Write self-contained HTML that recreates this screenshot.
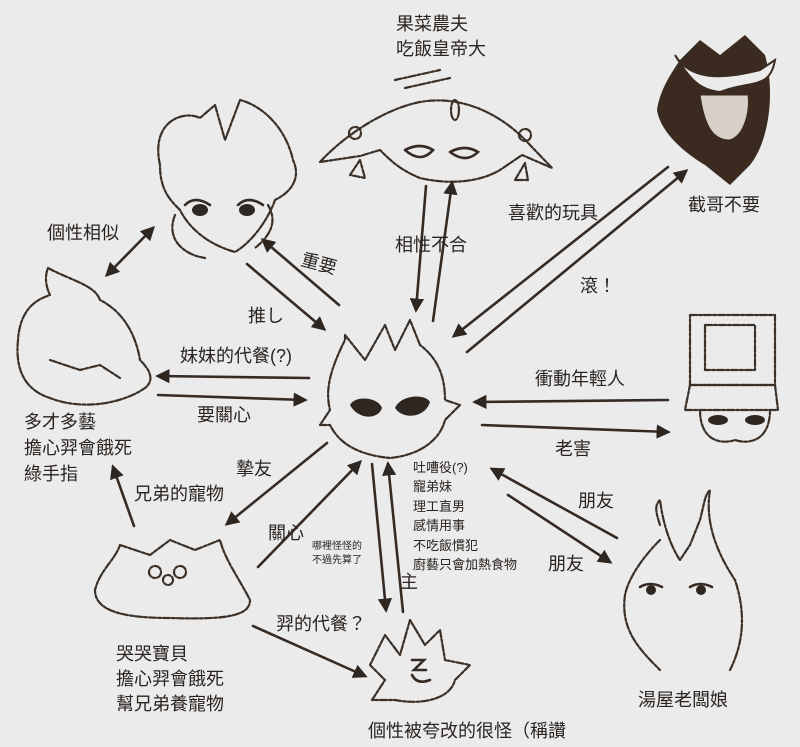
<!DOCTYPE html>
<html><head><meta charset="utf-8"><style>
html,body{margin:0;padding:0;background:#ebebeb;}
svg{display:block}
text{font-family:"Liberation Sans","Noto Sans CJK TC",sans-serif;fill:#2a2420;}
.l{stroke:#352b24;stroke-width:2.6;fill:none;stroke-linecap:round}
.c{stroke:#3a3028;stroke-width:2.2;fill:none;stroke-dasharray:7 2 3 2;stroke-linecap:round;stroke-linejoin:round}
</style></head><body>
<svg width="800" height="747" viewBox="0 0 800 747" xmlns="http://www.w3.org/2000/svg">
<defs><marker id="a" viewBox="0 0 10 10" refX="8" refY="5" markerWidth="5.5" markerHeight="5.5" orient="auto-start-reverse"><path d="M0,0 L10,5 L0,10 z" fill="#2e2620"/></marker></defs>
<rect width="800" height="747" fill="#ebebeb"/>

<!-- top center char -->
<path class="c" d="M320,162 C340,140 380,110 420,102 C460,95 500,112 530,145 L552,168 L522,155 L500,170 C480,182 450,185 420,178 C400,170 390,160 380,150 L360,156 Z"/>
<path class="c" d="M395,80 L440,70 M405,88 L450,78"/>
<ellipse class="c" cx="455" cy="110" rx="4" ry="10"/>
<circle class="c" cx="355" cy="133" r="6"/><circle class="c" cx="525" cy="135" r="6"/>
<path class="c" d="M350,175 L360,160 L365,178 Z M515,180 L525,163 L528,180 Z"/>
<path class="l" d="M405,150 q15,-8 28,0 q-12,14 -28,0 M450,152 q15,-8 28,0 q-12,12 -28,0"/>
<!-- top left char -->
<path class="c" d="M160,165 C150,120 185,110 200,118 L215,105 L225,140 L240,100 C260,105 285,125 293,160 C300,175 295,190 275,200 C270,215 255,240 235,252 C210,245 190,230 180,210 C170,200 160,190 160,165 Z"/>
<path class="c" d="M175,215 C165,240 185,255 205,258 M268,205 C280,225 265,240 255,248"/>
<path class="l" d="M185,205 q10,-10 25,0 M238,205 q10,-10 25,0"/>
<ellipse cx="200" cy="210" rx="8" ry="6" fill="#2e2620"/><ellipse cx="247" cy="210" rx="8" ry="6" fill="#2e2620"/>
<!-- left char -->
<path class="c" d="M48,268 C70,280 95,285 100,300 C120,310 135,330 140,360 C150,370 155,380 145,388 C120,405 80,410 50,398 C25,390 15,370 18,340 C20,310 35,300 50,295 C45,285 45,275 48,268 Z"/>
<path class="c" d="M50,360 L80,370 L100,365 L120,378"/>
<!-- top right dark head -->
<path d="M680,60 L700,40 L720,55 L745,35 L765,55 C775,90 770,140 750,165 L730,185 L705,165 C680,150 660,130 657,110 C660,90 670,75 680,60 Z" fill="#3b2a20"/>
<path d="M675,55 C690,80 720,80 760,70 L775,60 C770,90 750,80 720,92 C700,90 690,80 675,55 Z" fill="#ebebeb" stroke="#3b2a20" stroke-width="2"/>
<path d="M700,95 C705,130 715,140 730,140 C745,135 750,110 748,95 Z" fill="#d8d0c8" stroke="#3b2a20"/>
<!-- center char -->
<path class="c" d="M345,335 L365,360 L385,325 L395,350 L410,320 L420,345 C440,360 445,380 445,400 L460,405 L445,420 C440,440 420,455 390,458 C360,455 340,445 330,425 L320,425 L330,410 C325,390 330,370 345,340 Z"/>
<path d="M350,405 C355,395 378,397 382,408 C378,420 358,420 350,405 Z" fill="#2e2620"/>
<path d="M395,408 C400,395 425,393 430,402 C425,418 403,420 395,408 Z" fill="#2e2620"/>
<!-- right hat char -->
<rect class="c" x="690" y="315" width="85" height="70"/>
<rect class="c" x="705" y="325" width="50" height="45"/>
<path class="c" d="M690,385 L775,385 L778,410 L685,410 Z M700,410 C700,440 720,445 735,440 C750,445 770,440 770,410"/>
<ellipse cx="718" cy="420" rx="10" ry="5" fill="#2e2620"/><ellipse cx="755" cy="420" rx="10" ry="5" fill="#2e2620"/>
<!-- bottom right char -->
<path class="c" d="M660,525 C655,510 655,505 660,500 C665,540 680,560 680,560 L690,545 L700,520 C705,500 705,495 710,490 C705,520 715,550 735,580 C745,610 745,640 730,670 M625,595 C620,630 640,650 660,670 M660,540 C640,560 628,580 625,595"/>
<path class="l" d="M640,587 q10,-6 22,0 M690,587 q10,-6 22,0"/>
<ellipse cx="651" cy="590" rx="5" ry="5" fill="#2e2620"/><ellipse cx="701" cy="590" rx="5" ry="5" fill="#2e2620"/>
<!-- pet blob -->
<path class="c" d="M120,545 L150,555 L170,540 L195,550 L220,540 C225,560 240,580 250,600 C250,615 230,620 170,618 C120,618 95,610 95,590 C100,570 115,560 120,545 Z"/>
<circle class="c" cx="155" cy="572" r="6"/><circle class="c" cx="180" cy="572" r="6"/><circle class="c" cx="168" cy="580" r="5"/>
<!-- bottom char -->
<path class="c" d="M385,635 L400,655 L410,620 L425,645 L440,630 L445,660 L470,665 L455,680 C450,700 420,705 395,700 L372,700 L385,680 L370,665 Z"/>
<path class="l" d="M412,660 l12,0 l-10,10 l12,0 M412,675 q5,10 18,5"/>

<!-- arrows -->
<g class="l">
<line x1="107" y1="275" x2="153" y2="228" marker-start="url(#a)" marker-end="url(#a)"/>
<line x1="339" y1="305" x2="263" y2="240" marker-end="url(#a)"/>
<line x1="247" y1="264" x2="324" y2="329" marker-end="url(#a)"/>
<line x1="426" y1="186" x2="416" y2="310" marker-end="url(#a)"/>
<line x1="433" y1="321" x2="452" y2="183" marker-end="url(#a)"/>
<line x1="668" y1="167" x2="454" y2="336" marker-end="url(#a)"/>
<line x1="467" y1="352" x2="686" y2="171" marker-end="url(#a)"/>
<line x1="309" y1="378" x2="158" y2="376" marker-end="url(#a)"/>
<line x1="158" y1="395" x2="305" y2="400" marker-end="url(#a)"/>
<line x1="668" y1="400" x2="475" y2="402" marker-end="url(#a)"/>
<line x1="482" y1="425" x2="668" y2="432" marker-end="url(#a)"/>
<line x1="327" y1="443" x2="227" y2="524" marker-end="url(#a)"/>
<line x1="258" y1="567" x2="360" y2="462" marker-end="url(#a)"/>
<line x1="134" y1="526" x2="113" y2="467" marker-end="url(#a)"/>
<line x1="372" y1="464" x2="386" y2="610" marker-end="url(#a)"/>
<line x1="403" y1="612" x2="388" y2="464" marker-end="url(#a)"/>
<line x1="253" y1="626" x2="365" y2="676" marker-end="url(#a)"/>
<line x1="617" y1="538" x2="492" y2="469" marker-end="url(#a)"/>
<line x1="508" y1="495" x2="610" y2="562" marker-end="url(#a)"/>
</g>

<g font-size="18">
<text x="396" y="30">果菜農夫</text>
<text x="396" y="55">吃飯皇帝大</text>
<text x="688" y="211">截哥不要</text>
<text x="508" y="219">喜歡的玩具</text>
<text x="580" y="292">滾！</text>
<text x="395" y="251">相性不合</text>
<text x="300" y="265" transform="rotate(15 300 265)">重要</text>
<text x="248" y="322">推し</text>
<text x="47" y="239">個性相似</text>
<text x="180" y="362">妹妹的代餐(?)</text>
<text x="197" y="421">要關心</text>
<text x="24" y="428">多才多藝</text>
<text x="24" y="454">擔心羿會餓死</text>
<text x="24" y="480">綠手指</text>
<text x="535" y="385">衝動年輕人</text>
<text x="555" y="455">老害</text>
<text x="236" y="475">摯友</text>
<text x="268" y="539">關心</text>
<text x="134" y="500">兄弟的寵物</text>
<text x="578" y="507">朋友</text>
<text x="548" y="570">朋友</text>
<text x="400" y="588">主</text>
<text x="276" y="630">羿的代餐？</text>
<text x="116" y="660">哭哭寶貝</text>
<text x="116" y="685">擔心羿會餓死</text>
<text x="116" y="710">幫兄弟養寵物</text>
<text x="638" y="706">湯屋老闆娘</text>
<text x="368" y="737">個性被夸改的很怪（稱讚</text>
</g>
<g font-size="13">
<text x="413" y="472">吐嘈役(?)</text>
<text x="413" y="491">寵弟妹</text>
<text x="413" y="511">理工直男</text>
<text x="413" y="530">感情用事</text>
<text x="413" y="550">不吃飯慣犯</text>
<text x="413" y="569">廚藝只會加熱食物</text>
</g>
<g font-size="10">
<text x="312" y="549">哪裡怪怪的</text>
<text x="312" y="563">不過先算了</text>
</g>
</svg>
</body></html>
